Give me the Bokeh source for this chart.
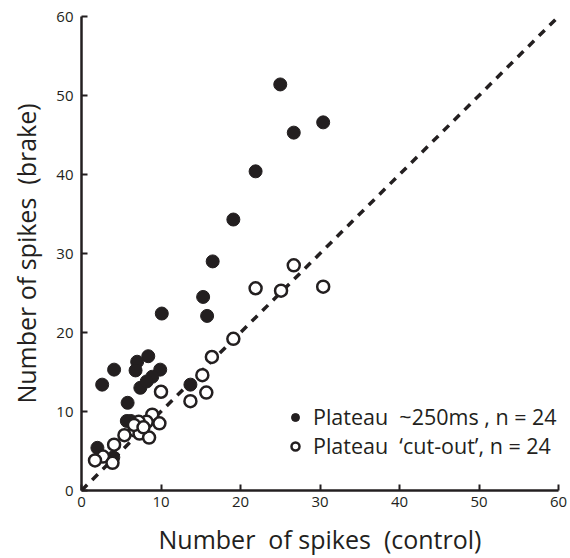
from bokeh.plotting import figure
from bokeh.models import Range1d, Legend, LegendItem, FixedTicker
from bokeh.embed import file_html
from bokeh.resources import INLINE

# Filled: Plateau ~250ms
ctrl_plateau = [25.0, 30.4, 26.7, 21.9, 19.1, 16.5, 15.3, 15.8, 10.1, 8.4, 7.0, 9.9,
                6.8, 8.9, 4.1, 2.6, 7.4, 8.2, 5.8, 5.7, 2.0, 4.0, 13.7, 6.2]
brake_plateau = [51.4, 46.6, 45.3, 40.4, 34.3, 29.0, 24.5, 22.1, 22.4, 17.0, 16.3, 15.3,
                 15.2, 14.4, 15.3, 13.4, 13.0, 13.8, 11.1, 8.8, 5.4, 4.2, 13.4, 8.8]
# Open: Plateau cut-out
ctrl_cut = [26.7, 21.9, 25.1, 30.4, 19.1, 16.4, 15.2, 15.7, 13.7, 10.0, 8.9, 9.8,
            8.2, 7.2, 6.7, 7.3, 8.5, 5.4, 4.1, 2.7, 1.7, 3.9, 6.6, 7.8]
brake_cut = [28.5, 25.6, 25.3, 25.8, 19.2, 16.9, 14.6, 12.4, 11.3, 12.5, 9.6, 8.5,
             8.7, 8.7, 7.6, 7.2, 6.7, 7.0, 5.8, 4.3, 3.8, 3.5, 8.3, 8.0]
identity = [0, 60]
ticks = [0, 10, 20, 30, 40, 50, 60]

INK = "#231f20"
FONT = "Open Sans"
S = "\u00a0"

p = figure(width=568, height=558, output_backend="svg", toolbar_location=None,
           x_range=Range1d(0, 60), y_range=Range1d(0, 60),
           min_border_left=81, min_border_right=10, min_border_top=16, min_border_bottom=63)
p.outline_line_color = None
p.grid.visible = False

p.line(identity, identity, line_color=INK, line_width=3.5, line_dash="8 7")

r1 = p.scatter(ctrl_plateau, brake_plateau, marker="circle", size=13,
               fill_color=INK, line_color=INK, line_width=1)
r2 = p.scatter(ctrl_cut, brake_cut, marker="circle", size=12,
               fill_color="white", line_color=INK, line_width=2.5)

for ax in (p.xaxis[0], p.yaxis[0]):
    ax.ticker = FixedTicker(ticks=ticks)
    ax.axis_line_width = 2.5
    ax.axis_line_color = INK
    ax.major_tick_in = 6
    ax.major_tick_out = 0
    ax.major_tick_line_width = 2
    ax.major_tick_line_color = INK
    ax.minor_tick_line_color = None
    ax.major_label_text_font = FONT
    ax.major_label_text_font_size = "15px"
    ax.major_label_text_color = INK
    ax.axis_label_text_font = FONT
    ax.axis_label_text_font_size = "25px"
    ax.axis_label_text_font_style = "normal"
    ax.axis_label_text_color = INK

p.xaxis.axis_label = "Number" + S + " of spikes" + S + " (control)"
p.yaxis.axis_label = "Number of spikes" + S + " (brake)"
p.xaxis.major_label_standoff = 6
p.yaxis.major_label_standoff = 8
p.xaxis.axis_label_standoff = 12
p.yaxis.axis_label_standoff = 10

legend = Legend(items=[
    LegendItem(label="Plateau" + S + " ~250ms , n = 24", renderers=[r1]),
    LegendItem(label="Plateau" + S + " \u2018cut-out\u2019, n = 24", renderers=[r2]),
], location=(204, 30))
legend.label_text_font = FONT
legend.label_text_font_size = "21.5px"
legend.label_text_color = INK
legend.background_fill_alpha = 0
legend.border_line_alpha = 0
legend.padding = 0
legend.margin = 0
legend.spacing = 0
legend.label_height = 24
legend.glyph_width = 20
legend.glyph_height = 20
legend.label_standoff = 8
p.add_layout(legend)

open("out.html", "w").write(file_html(p, INLINE))
